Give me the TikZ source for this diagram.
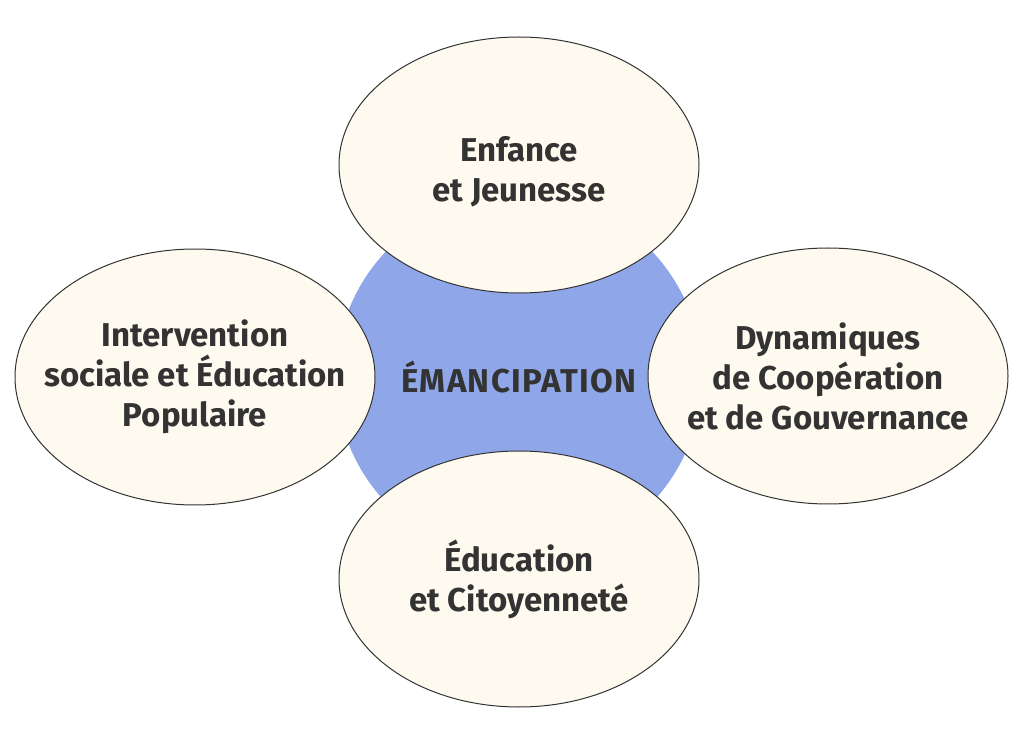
\documentclass[tikz,border=0pt]{standalone}
\usepackage{fontspec}
\setmainfont{Fira Sans}
\usetikzlibrary{shapes.geometric}
\definecolor{creme}{HTML}{FEFAEF}
\definecolor{bleu}{HTML}{8FA7E8}
\definecolor{texte}{HTML}{333333}
\tikzstyle{centre} = [circle, minimum size=183pt, inner sep=0pt, fill=bleu]
\tikzstyle{pole} = [ellipse, minimum width=180pt, minimum height=128pt, inner sep=0pt, draw=texte, line width=0.5pt, fill=creme]
\tikzstyle{libelle} = [align=center, text=texte, font=\fontsize{16.5}{20}\selectfont\bfseries]

\begin{document}
\begin{tikzpicture}[x=0.5pt, y=-0.5pt]
  \useasboundingbox (0,0) rectangle (1024,743);
  \node (emancipation) [centre] at (519,377) {};

  \node (enfance) [pole] at (519,165) {};
  \node (intervention) [pole] at (195,377) {};
  \node (dynamiques) [pole] at (828,376) {};
  \node (education) [pole] at (519,579) {};

  \node [libelle, font=\fontsize{16.5}{20}\selectfont\bfseries\addfontfeature{LetterSpace=4}] at (emancipation) {ÉMANCIPATION};
  \node [libelle, yshift=-3.5pt] at (enfance) {Enfance\\et Jeunesse};
  \node [libelle] at (intervention) {Intervention\\sociale et Éducation\\Populaire};
  \node [libelle] at (dynamiques) {Dynamiques\\de Coopération\\et de Gouvernance};
  \node [libelle] at (education) {Éducation\\et Citoyenneté};
\end{tikzpicture}
\end{document}
